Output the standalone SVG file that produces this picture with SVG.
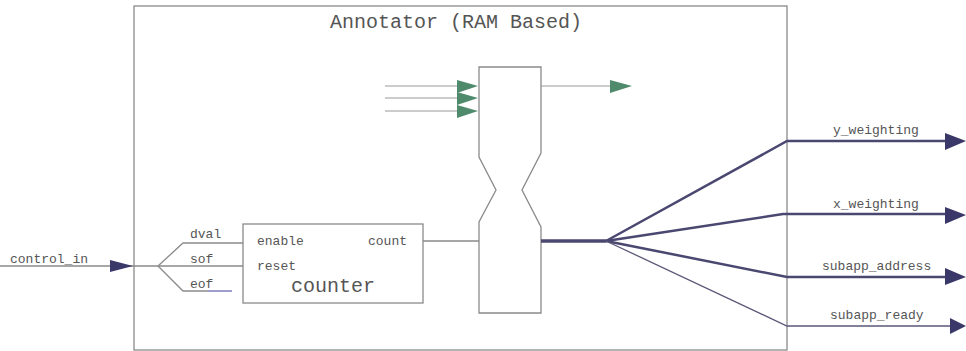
<svg xmlns="http://www.w3.org/2000/svg" width="966" height="351" viewBox="0 0 966 351">
<style>
.box{fill:#fff;stroke:#8a8a8a;stroke-width:1.3}
.ln{fill:none;stroke:#8a8a8a;stroke-width:1.3}
.t{font-family:"Liberation Mono",monospace;fill:#555;font-size:13px}
.big{font-size:20px}
.bus{fill:none;stroke:#4a4870;stroke-width:3.5}
.bus2{fill:none;stroke:#4a4870;stroke-width:2.5}
.thin{fill:none;stroke:#5a5878;stroke-width:1.3}
.g{fill:none;stroke:#9a9a9a;stroke-width:1.2}
.ga{fill:#4f8a6c}
.pa{fill:#3a3868}
</style>
<rect width="966" height="351" fill="#fff"/>
<g id="annotator">
<rect class="box" x="134" y="6" width="653" height="344"/>
<text class="t big" x="330" y="28" font-size="19">Annotator (RAM Based)</text>
</g>
<g id="counter">
<rect class="box" x="243" y="224" width="180" height="79"/>
<text class="t" x="257" y="245">enable</text>
<text class="t" x="368" y="245">count</text>
<text class="t" x="257" y="270">reset</text>
<text class="t big" x="291" y="292">counter</text>
</g>
<g id="ram">
<path class="box" d="M479,67 H541 V153 L522,190 L541,227 V313 H479 V222 L496,190 L479,157 Z"/>
</g>
<g id="connectors">
<line class="ln" x1="0" y1="266" x2="158" y2="266"/>
<polygon class="pa" points="110,260 133,266 110,272"/>
<text class="t" x="10" y="263" font-size="14">control_in</text>
<polyline class="ln" points="158,266 183,243 243,243"/>
<line class="ln" x1="158" y1="266" x2="243" y2="266"/>
<polyline class="ln" points="158,266 183,291 208,291"/>
<line x1="208" y1="291" x2="232" y2="291" stroke="#6a68b0" stroke-width="1.3"/>
<text class="t" x="190" y="238">dval</text>
<text class="t" x="190" y="263">sof</text>
<text class="t" x="190" y="288">eof</text>
<line class="ln" x1="423" y1="241" x2="479" y2="241"/>
<line class="g" x1="385" y1="86" x2="458" y2="86"/>
<line class="g" x1="385" y1="98" x2="458" y2="98"/>
<line class="g" x1="385" y1="111" x2="458" y2="111"/>
<polygon class="ga" points="457,80 478,86 457,93"/>
<polygon class="ga" points="457,92 478,98 457,105"/>
<polygon class="ga" points="457,105 478,111 457,118"/>
<line class="g" x1="541" y1="86" x2="612" y2="86"/>
<polygon class="ga" points="610,80 632,86 610,93"/>
<line class="bus" x1="541" y1="241" x2="606" y2="241"/>
<polyline class="bus2" points="606,241 787,141 948,141"/>
<polygon class="pa" points="945,133 966,141 945,150"/>
<polyline class="bus2" points="606,241 783,214 948,214"/>
<polygon class="pa" points="945,207 966,215 945,224"/>
<polyline class="bus2" points="606,241 787,277 948,277"/>
<polygon class="pa" points="945,268 966,277 945,285"/>
<polyline class="thin" points="606,241 787,326 952,326"/>
<polygon class="pa" points="950,318 966,326 950,334"/>
<text class="t" x="833" y="134">y_weighting</text>
<text class="t" x="833" y="208">x_weighting</text>
<text class="t" x="822" y="270">subapp_address</text>
<text class="t" x="830" y="319">subapp_ready</text>
</g>
</svg>
